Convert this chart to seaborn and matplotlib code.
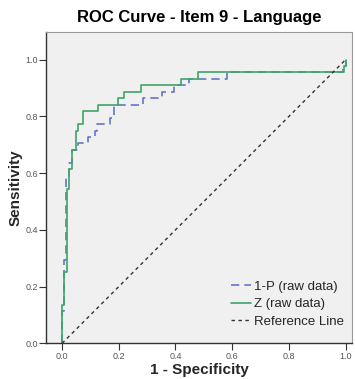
import matplotlib
matplotlib.use("Agg")
import matplotlib.pyplot as plt
import seaborn as sns
import numpy as np

# ROC step points (1 - specificity, sensitivity)
fpr_p = [0, 0, 0.008, 0.013, 0.024, 0.036, 0.058, 0.093, 0.116, 0.125, 0.169,
         0.185, 0.285, 0.352, 0.395, 0.446, 0.581, 0.99, 1.0]
tpr_p = [0, 0.114, 0.295, 0.591, 0.636, 0.682, 0.705, 0.727, 0.75, 0.773, 0.795,
         0.841, 0.864, 0.886, 0.909, 0.932, 0.955, 0.977, 1.0]

fpr_z = [0, 0, 0.008, 0.018, 0.026, 0.034, 0.049, 0.058, 0.075, 0.126, 0.199,
         0.219, 0.278, 0.420, 0.479, 0.995, 1.0]
tpr_z = [0, 0.136, 0.25, 0.545, 0.614, 0.682, 0.75, 0.773, 0.818, 0.841, 0.864,
         0.886, 0.909, 0.932, 0.955, 0.977, 1.0]

ref_x = [0, 1]
ref_y = [0, 1]

tick_vals = [0.0, 0.2, 0.4, 0.6, 0.8, 1.0]
tick_labels = ["0.0", "0.2", "0.4", "0.6", "0.8", "1.0"]

sns.set_style("white", {"axes.facecolor": "#f0f0f0"})
plt.rcParams['font.family'] = ['Liberation Sans', 'DejaVu Sans']

fig = plt.figure(figsize=(3.55, 3.79), dpi=100)
ax = fig.add_axes([0.13, 0.094, 0.862, 0.822])

sns.lineplot(x=fpr_p, y=tpr_p, estimator=None, sort=False, drawstyle='steps-post',
             color='#6277c9', linewidth=1.2, linestyle=(0, (5, 3)),
             label='1-P (raw data)', ax=ax)
sns.lineplot(x=fpr_z, y=tpr_z, estimator=None, sort=False, drawstyle='steps-post',
             color='#3fa468', linewidth=1.2, label='Z (raw data)', ax=ax)
sns.lineplot(x=ref_x, y=ref_y, estimator=None, sort=False, color='#333333',
             linewidth=1.0, linestyle=(0, (2.5, 2.5)), label='Reference Line', ax=ax)

ax.set_xlim(-0.056, 1.023)
ax.set_ylim(0, 1.098)
ax.set_xticks(tick_vals)
ax.set_xticklabels(tick_labels)
ax.set_yticks(tick_vals)
ax.set_yticklabels(tick_labels)
ax.tick_params(axis='both', direction='out', length=5, width=0.8, color='#333333',
               labelsize=6.5, labelcolor='#555555', pad=1, bottom=True, left=True)

for s in ['left', 'bottom']:
    ax.spines[s].set_color('#333333')
    ax.spines[s].set_linewidth(1.0)
for s in ['top', 'right']:
    ax.spines[s].set_color('#999999')
    ax.spines[s].set_linewidth(0.8)

ax.set_xlabel('1 - Specificity', fontsize=11, fontweight='bold', labelpad=2)
ax.set_ylabel('Sensitivity', fontsize=11, fontweight='bold', labelpad=2)
ax.set_title('ROC Curve - Item 9 - Language', fontsize=12, fontweight='bold',
             color='black', pad=7)

leg = ax.legend(loc='upper left', bbox_to_anchor=(0.566, 0.239), frameon=False,
                fontsize=9.5, handlelength=1.5, handletextpad=0.2, labelspacing=0.38)

fig.savefig('out.png', dpi=100)
